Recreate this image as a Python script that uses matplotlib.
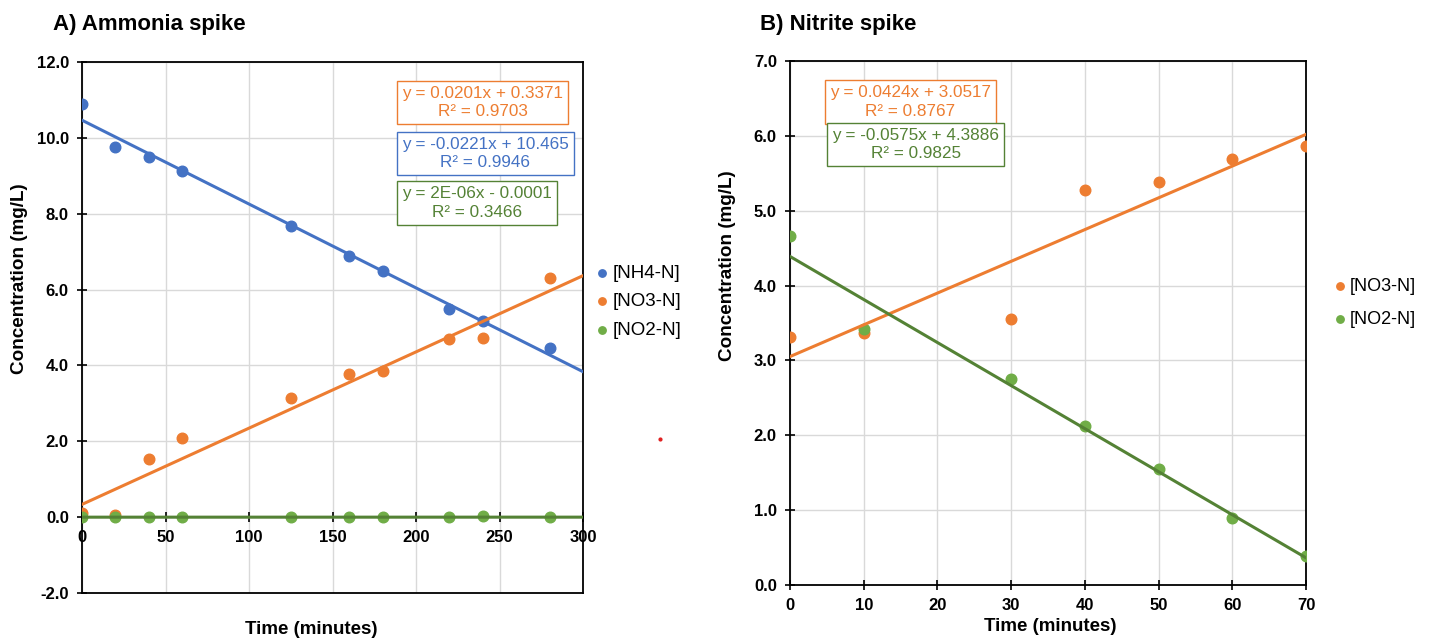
import numpy as np
import matplotlib
matplotlib.use("Agg")
import matplotlib.pyplot as plt
from matplotlib.lines import Line2D

plt.rcParams['font.family'] = ['Liberation Sans', 'DejaVu Sans']

BLUE = "#4472C4"
ORANGE = "#ED7D31"
GREEN = "#70AD47"
DGREEN = "#548235"

# panel A - ammonia spike
time_a = [0, 20, 40, 60, 125, 160, 180, 220, 240, 280]
nh4_a = [10.89, 9.76, 9.50, 9.12, 7.67, 6.88, 6.49, 5.48, 5.17, 4.46]
no3_a = [0.10, 0.05, 1.53, 2.08, 3.14, 3.77, 3.86, 4.69, 4.72, 6.30]
no2_a = [0.0, 0.0, 0.0, 0.0, 0.0, 0.0, 0.0, 0.0, 0.02, 0.0]

# trendline coefficients (slope, intercept) as printed on the chart
fit_nh4_a = (-0.0221, 10.465)
fit_no3_a = (0.0201, 0.3371)
fit_no2_a = (2e-06, -0.0001)

# panel B - nitrite spike
time_b = [0, 10, 30, 40, 50, 60, 70]
no3_b = [3.31, 3.37, 3.55, 5.27, 5.38, 5.69, 5.86]
no2_b = [4.66, 3.42, 2.75, 2.12, 1.55, 0.89, 0.39]

fit_no3_b = (0.0424, 3.0517)
fit_no2_b = (-0.0575, 4.3886)

fig = plt.figure(figsize=(14.37, 6.38), dpi=100)
axA = fig.add_axes([0.0571, 0.0705, 0.3486, 0.8323])
axB = fig.add_axes([0.5498, 0.0831, 0.3590, 0.8213])


def style(ax):
    ax.grid(True, color="#d9d9d9", lw=1, zorder=0)
    ax.set_axisbelow(True)
    for s in ax.spines.values():
        s.set_linewidth(1.3)
        s.set_color("black")
    ax.tick_params(axis="both", direction="inout", length=7, width=1.2,
                   labelsize=12, pad=6)
    for lab in ax.get_xticklabels() + ax.get_yticklabels():
        lab.set_fontweight("bold")


def trend(ax, fit, x0, x1, color):
    xs = np.array([x0, x1])
    ax.plot(xs, fit[0] * xs + fit[1], color=color, lw=2.2, zorder=4)


def eqbox(ax, x, y, fit, r2, color):
    sign = "+" if fit[1] >= 0 else "-"
    k = f"{fit[0]:.0E}" if abs(fit[0]) < 1e-3 else f"{fit[0]:g}"
    txt = f"y = {k}x {sign} {abs(fit[1]):g}\nR² = {r2}"
    ax.text(x, y, txt, transform=ax.transAxes, color=color, fontsize=12.3,
            ha="left", va="center", multialignment="center", zorder=6,
            linespacing=1.3,
            bbox=dict(boxstyle="square,pad=0.3", fc="white", ec=color, lw=1.0))


# ---- A ----
axA.scatter(time_a, nh4_a, s=58, color=BLUE, zorder=3, label="[NH4-N]")
axA.scatter(time_a, no3_a, s=58, color=ORANGE, zorder=3, label="[NO3-N]")
axA.scatter(time_a, no2_a, s=58, color=GREEN, zorder=3, label="[NO2-N]")
trend(axA, fit_nh4_a, 0, 300, BLUE)
trend(axA, fit_no3_a, 0, 300, ORANGE)
trend(axA, fit_no2_a, 0, 300, DGREEN)
axA.set_xlim(0, 300)
axA.set_ylim(-2, 12)
axA.set_xticks(range(0, 301, 50))
axA.set_yticks(np.arange(-2, 12.1, 2))
axA.set_yticklabels([f"{v:.1f}" for v in np.arange(-2, 12.1, 2)])
axA.spines["bottom"].set_position(("data", 0))
axA.axhline(-2, color="black", lw=1.3, zorder=5, clip_on=False)
style(axA)
axA.set_xlabel("Time (minutes)", fontsize=13.5, fontweight="bold")
axA.xaxis.set_label_coords(0.457, -0.053)
axA.set_ylabel("Concentration (mg/L)", fontsize=13.6, fontweight="bold")
axA.yaxis.set_label_coords(-0.108, 0.593)
fig.text(53 / 1437, 1 - 30 / 638, "A) Ammonia spike", fontsize=16,
         fontweight="bold", va="baseline", ha="left")
eqbox(axA, 0.6387, 0.9237, fit_no3_a, "0.9703", ORANGE)
eqbox(axA, 0.6387, 0.8277, fit_nh4_a, "0.9946", BLUE)
eqbox(axA, 0.6387, 0.7345, fit_no2_a, "0.3466", DGREEN)
fig.legend(*axA.get_legend_handles_labels(), loc="center left",
           bbox_to_anchor=(0.401, 0.527), frameon=False, fontsize=13.5,
           handletextpad=0.05, markerscale=0.7, labelspacing=0.6,
           handlelength=1.0)

# stray red dot seen in the reference
fig.add_artist(Line2D([660 / 1437], [1 - 439 / 638], marker="o", ms=2,
                      color="#e02020", lw=0, transform=fig.transFigure))

# ---- B ----
axB.scatter(time_b, no3_b, s=58, color=ORANGE, zorder=3, label="[NO3-N]")
axB.scatter(time_b, no2_b, s=58, color=GREEN, zorder=3, label="[NO2-N]")
trend(axB, fit_no3_b, 0, 70, ORANGE)
trend(axB, fit_no2_b, 0, 70, DGREEN)
axB.set_xlim(0, 70)
axB.set_ylim(0, 7)
axB.set_xticks(range(0, 71, 10))
axB.set_yticks(np.arange(0, 7.1, 1))
axB.set_yticklabels([f"{v:.1f}" for v in np.arange(0, 7.1, 1)])
style(axB)
axB.set_xlabel("Time (minutes)", fontsize=13.5, fontweight="bold")
axB.xaxis.set_label_coords(0.504, -0.063)
axB.set_ylabel("Concentration (mg/L)", fontsize=13.6, fontweight="bold")
axB.yaxis.set_label_coords(-0.105, 0.609)
fig.text(760 / 1437, 1 - 30 / 638, "B) Nitrite spike", fontsize=16,
         fontweight="bold", va="baseline", ha="left")
eqbox(axB, 0.0775, 0.9218, fit_no3_b, "0.8767", ORANGE)
eqbox(axB, 0.0814, 0.8406, fit_no2_b, "0.9825", DGREEN)
fig.legend(*axB.get_legend_handles_labels(), loc="center left",
           bbox_to_anchor=(0.915, 0.525), frameon=False, fontsize=13,
           handletextpad=0.05, markerscale=0.7, labelspacing=0.9,
           handlelength=1.0)

fig.savefig("out.png", dpi=100)
